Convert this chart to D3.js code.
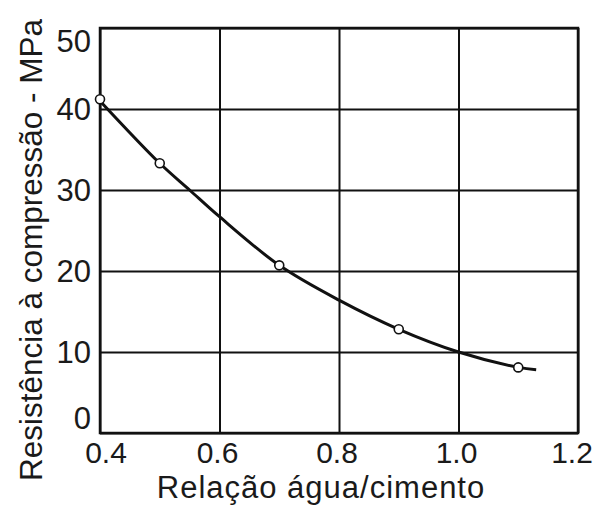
<!DOCTYPE html>
<html>
<head>
<meta charset="utf-8">
<script src="https://cdn.jsdelivr.net/npm/d3@7"></script>
<style>
  body { margin: 0; background: #fff; }
  text { font-family: "Liberation Sans", Arial, sans-serif; fill: #1a1a1a; }
</style>
</head>
<body>
<svg id="chart" width="597" height="505"></svg>
<script>
// measured points (open circles)
var ratio = [0.4, 0.5, 0.7, 0.9, 1.1];
var strength = [41.2, 33.3, 20.7, 12.8, 8.1];
// fitted curve
var curveRatio = [0.4, 0.5, 0.55, 0.6, 0.7, 0.8, 0.9, 1.0, 1.1, 1.13];
var curveStrength = [41.0, 33.3, 30.0, 26.7, 20.7, 16.4, 12.8, 10.0, 8.1, 7.8];
var xTicks = [0.4, 0.6, 0.8, 1.0, 1.2];
var yTicks = [0, 10, 20, 30, 40, 50];

var svg = d3.select('#chart');
var margin = {left: 100, top: 28, right: 19, bottom: 72};
var width = 597 - margin.left - margin.right,
    height = 505 - margin.top - margin.bottom;

var x = d3.scaleLinear().domain([0.4, 1.2]).range([0, width]);
var y = d3.scaleLinear().domain([0, 50]).range([height, 0]);

var g = svg.append('g').attr('transform', 'translate(' + margin.left + ',' + margin.top + ')');

// grid
g.append('g')
    .attr('transform', 'translate(0,' + height + ')')
    .call(d3.axisBottom(x).tickValues(xTicks).tickSize(-height).tickFormat(''))
    .call(function (a) { a.select('.domain').remove(); })
    .selectAll('line').attr('stroke', '#111').attr('stroke-width', 2);
g.append('g')
    .call(d3.axisLeft(y).tickValues(yTicks).tickSize(-width).tickFormat(''))
    .call(function (a) { a.select('.domain').remove(); })
    .selectAll('line').attr('stroke', '#111').attr('stroke-width', 2);

g.append('rect')
    .attr('width', width).attr('height', height)
    .attr('fill', 'none').attr('stroke', '#111').attr('stroke-width', 2.5);

// tick labels
g.selectAll('.xl').data(xTicks).enter().append('text')
    .attr('class', 'xl')
    .attr('x', function (d) { return x(d) + (d === 1.2 ? -6 : d === 0.4 ? 6 : -2); })
    .attr('y', height + 30)
    .attr('text-anchor', 'middle')
    .style('font-size', '30px')
    .text(function (d) { return d.toFixed(1); });

g.selectAll('.yl').data(yTicks).enter().append('text')
    .attr('class', 'yl')
    .attr('x', -9)
    .attr('y', function (d) { return y(d) + (d === 50 ? 13 : d === 0 ? -15 : 0); })
    .attr('dy', '0.36em')
    .attr('text-anchor', 'end')
    .style('font-size', '31px')
    .text(function (d) { return d; });

// curve
var pts = curveRatio.map(function (r, i) { return [r, curveStrength[i]]; });
var line = d3.line()
    .x(function (d) { return x(d[0]); })
    .y(function (d) { return y(d[1]); })
    .curve(d3.curveCatmullRom.alpha(0.5));
g.append('path')
    .attr('d', line(pts))
    .attr('fill', 'none').attr('stroke', '#111').attr('stroke-width', 3);

g.selectAll('.pt').data(ratio).enter().append('circle')
    .attr('class', 'pt')
    .attr('cx', function (d) { return x(d); })
    .attr('cy', function (d, i) { return y(strength[i]); })
    .attr('r', 4.5)
    .attr('fill', '#fff').attr('stroke', '#111').attr('stroke-width', 1.6);

// axis titles
svg.append('text')
    .attr('x', 321).attr('y', 498)
    .attr('text-anchor', 'middle')
    .style('font-size', '31px')
    .style('letter-spacing', '1px')
    .text('Relação água/cimento');

svg.append('text')
    .attr('transform', 'translate(42,250) rotate(-90)')
    .attr('text-anchor', 'middle')
    .style('font-size', '31.5px')
    .text('Resistência à compressão - MPa');
</script>
</body>
</html>
